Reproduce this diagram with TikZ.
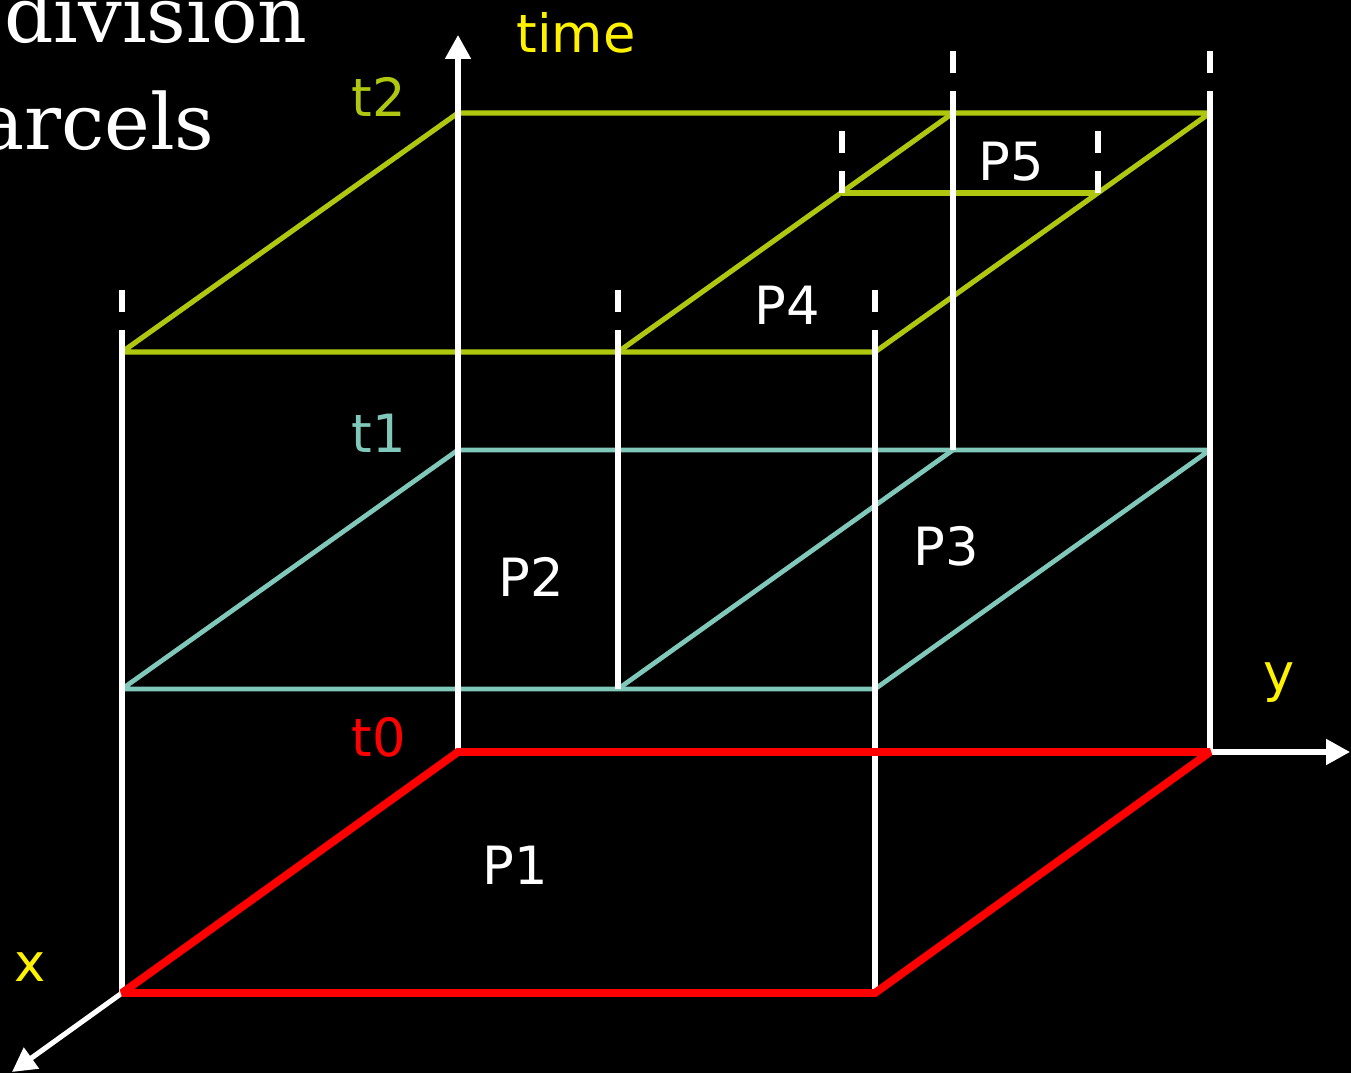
\documentclass[tikz,border=0pt]{standalone}
\usepackage{fontspec}
\setmainfont{DejaVu Sans}
\newfontfamily\titlefont{DejaVu Serif}
\usetikzlibrary{arrows.meta, calc}
\definecolor{lvlgreen}{RGB}{175,200,15}
\definecolor{lvlteal}{RGB}{128,200,185}
\tikzstyle{level2} = [draw=lvlgreen, line width=2.9pt, miter limit=1.5]
\tikzstyle{level1} = [draw=lvlteal, line width=2.7pt, miter limit=1.5]
\tikzstyle{level0} = [draw=red, line width=4.5pt, miter limit=1.5]
\tikzstyle{wall} = [draw=white, line width=2.9pt]
\tikzstyle{tick} = [wall, dash pattern=on 0.44cm off 0.36cm]
\tikzstyle{axis} = [wall, -{Triangle[length=0.48cm, width=0.5cm]}]
\tikzstyle{lbl} = [inner sep=0pt, font=\fontsize{30}{36}\selectfont]

\begin{document}
\begin{tikzpicture}[x=1cm, y=1cm]
    \useasboundingbox[fill=black] (0,0) rectangle (27.02,21.46);

    % title, cut off at the left
    \node (title1) [anchor=base east, inner sep=0pt, text=white, font=\titlefont\fontsize{44}{52}\selectfont] at (6.16,20.6) {division};
    \node (title2) [anchor=base east, inner sep=0pt, text=white, font=\titlefont\fontsize{44}{52}\selectfont] at (4.3,18.46) {arcels};

    % corners of the three time levels
    \coordinate (a0) at (2.44,1.6);   \coordinate (b0) at (17.5,1.6);
    \coordinate (c0) at (24.2,6.42);  \coordinate (d0) at (9.16,6.42);
    \coordinate (a1) at (2.44,7.68);  \coordinate (m1) at (12.36,7.68);  \coordinate (b1) at (17.5,7.68);
    \coordinate (c1) at (24.2,12.46); \coordinate (n1) at (19.06,12.46); \coordinate (d1) at (9.16,12.46);
    \coordinate (a2) at (2.44,14.42); \coordinate (m2) at (12.36,14.42); \coordinate (b2) at (17.5,14.42);
    \coordinate (c2) at (24.2,19.2);  \coordinate (n2) at (19.06,19.2);  \coordinate (d2) at (9.16,19.2);
    \coordinate (p2) at (16.84,17.6); \coordinate (q2) at (21.96,17.6);
    \coordinate (xtip) at (0.24,0.02);
    \coordinate (ytip) at (27.0,6.42);
    \coordinate (ttip) at (9.16,20.76);

    \draw[level2] (a2) -- (b2) -- (c2) -- (d2) -- cycle;
    \draw[level2] (m2) -- (n2);
    \draw[level2] (p2) -- (q2);
    \draw[level1] (a1) -- (b1) -- (c1) -- (d1) -- cycle;
    \draw[level1] (m1) -- (n1);

    \draw[wall] (a0) -- (a2);
    \draw[wall] (m1) -- (m2);
    \draw[wall] (b0) -- (b2);
    \draw[wall] (n1) -- (n2);
    \draw[wall] (c0) -- (c2);
    \foreach \c in {a2, m2, b2, n2, c2, p2, q2}
        \draw[tick] (\c) -- ++(0,1.26);

    \draw[axis] (d0) -- (ttip);
    \draw[axis] (a0) -- (xtip);
    \draw[axis] (c0) -- (ytip);

    \draw[level0] (a0) -- (b0) -- (c0) -- (d0) -- cycle;

    \node (timelbl) [lbl, anchor=base, text=yellow] at (11.52,20.4) {time};
    \node (xlbl) [lbl, anchor=base, text=yellow] at (0.6,1.82) {x};
    \node (ylbl) [lbl, anchor=base, text=yellow] at (25.58,7.62) {y};
    \node (t2lbl) [lbl, anchor=base, text=lvlgreen] at (7.58,19.12) {t2};
    \node (t1lbl) [lbl, anchor=base, text=lvlteal] at (7.58,12.4) {t1};
    \node (t0lbl) [lbl, anchor=base, text=red] at (7.58,6.32) {t0};

    \node (P1) [lbl, text=white] at (10.3,4.16) {P1};
    \node (P2) [lbl, text=white] at (10.62,9.92) {P2};
    \node (P3) [lbl, text=white] at (18.92,10.54) {P3};
    \node (P4) [lbl, text=white] at (15.74,15.36) {P4};
    \node (P5) [lbl, text=white] at (20.22,18.22) {P5};
\end{tikzpicture}
\end{document}
